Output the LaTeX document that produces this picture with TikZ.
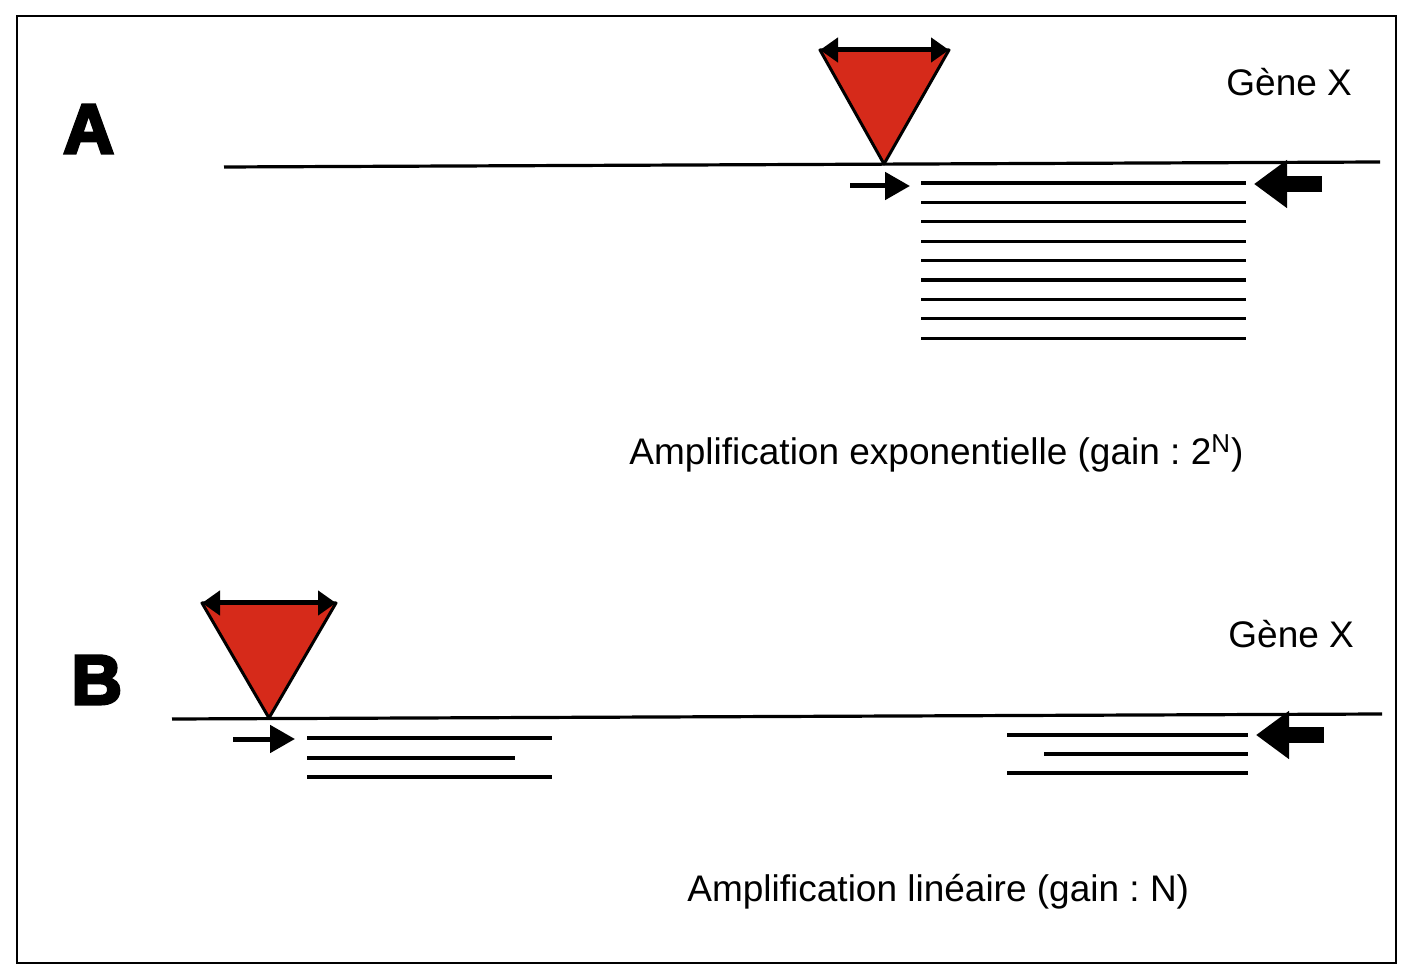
\documentclass[tikz,border=0pt]{standalone}
\usepackage{fontspec}
\setmainfont{Liberation Sans}
\newfontfamily\heavyfont[FakeBold=4.5]{Liberation Sans Bold}
\usetikzlibrary{arrows.meta}
\definecolor{probered}{RGB}{214,42,26}
\frenchspacing

\begin{document}
\begin{tikzpicture}[x=0.5pt,y=-0.5pt,
    strand/.style={line width=1.6pt},
    primer/.style={line width=2.5pt,-{Triangle[length=12.5pt,width=13.5pt]}},
    bigprimer/.style={line width=8pt,-{Triangle[length=16.5pt,width=23pt]}},
    probe/.style={fill=probered,draw=black,line width=1.5pt,line join=round},
    span/.style={line width=2.5pt,{Triangle[length=9pt,width=12pt]}-{Triangle[length=9pt,width=12pt]}},
    txt/.style={anchor=base west,inner sep=0pt,font=\fontsize{18.5}{22}\selectfont},
    panel/.style={anchor=base west,inner sep=0pt,font=\heavyfont\fontsize{35}{38}\selectfont}]
      \useasboundingbox (0,0) rectangle (1408,972);
      \draw[line width=1pt] (17,16) rectangle (1396,963); % frame

      % panel A
      \node[panel] (letterA) at (63,153) {A};
      \node[txt] (geneA) at (1226,96) {Gène X};
      \draw[strand] (224,167) -- (1380,162);
      \filldraw[probe] (820,50) -- (949,50) -- (884,164) -- cycle;
      \draw[span] (820,50) -- (949,50);
      \draw[primer] (850,186) -- (910,186);
      \draw[bigprimer] (1322,184) -- (1254,184);
      \foreach \i in {0,...,8} % copies
      \draw[strand] (921,{183+19.4*\i}) -- (1246,{183+19.4*\i});
      \node[txt] (gainA) at (629,465) {Amplification exponentielle (gain : 2\textsuperscript{N})};

      % panel B
      \node[panel] (letterB) at (71,704) {B};
      \node[txt] (geneB) at (1228,647) {Gène X};
      \draw[strand] (172,719) -- (1382,714);
      \filldraw[probe] (202,603) -- (336,603) -- (269,718) -- cycle;
      \draw[span] (202,603) -- (336,603);
      \draw[primer] (233,739) -- (295,739);
      \draw[bigprimer] (1324,735) -- (1256,735);
      \draw[strand] (307,738) -- (552,738);
      \draw[strand] (307,758) -- (515,758);
      \draw[strand] (307,777) -- (552,777);
      \draw[strand] (1007,735) -- (1248,735);
      \draw[strand] (1044,754) -- (1248,754);
      \draw[strand] (1007,773) -- (1248,773);
      \node[txt] (gainB) at (687,901) {Amplification linéaire (gain : N)};
    \end{tikzpicture}
\end{document}
